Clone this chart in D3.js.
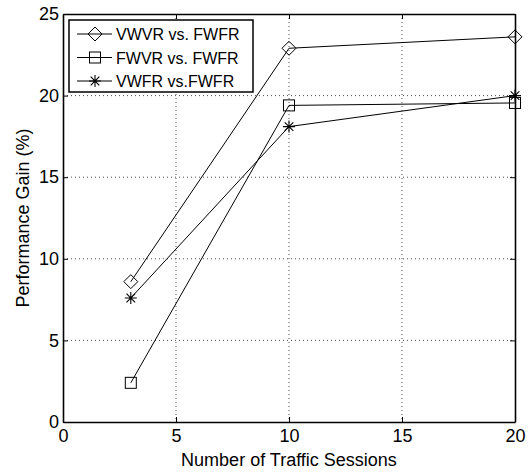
<!DOCTYPE html>
<html><head><meta charset="utf-8">
<script src="https://cdn.jsdelivr.net/npm/d3@7"></script>
<style>body{margin:0;background:#fff}svg{display:block}text{font-family:"Liberation Sans",Arial,sans-serif;fill:#000}</style>
</head><body><svg id="c" width="531" height="474"></svg>
<script>
const sessions = [3, 10, 20];
const vwvr = [8.6, 22.9, 23.6];
const fwvr = [2.4, 19.4, 19.55];
const vwfr = [7.6, 18.1, 20.0];
const seriesNames = ["VWVR vs. FWFR", "FWVR vs. FWFR", "VWFR vs.FWFR"];
const xTicks = [0, 5, 10, 15, 20];
const yTicks = [0, 5, 10, 15, 20, 25];

const svg = d3.select("#c");
const L = 63, R = 515, T = 14, B = 422;
const x = d3.scaleLinear().domain([0, 20]).range([L, R]);
const y = d3.scaleLinear().domain([0, 25]).range([B, T]);

// grid
const g = svg.append("g");
g.selectAll(".gx").data(xTicks.slice(1, -1)).enter().append("line")
  .attr("x1", d => x(d)).attr("x2", d => x(d)).attr("y1", T).attr("y2", B)
  .attr("stroke", "#000").attr("stroke-width", 0.7).attr("stroke-dasharray", "1,3");
g.selectAll(".gy").data(yTicks.slice(1, -1)).enter().append("line")
  .attr("y1", d => y(d)).attr("y2", d => y(d)).attr("x1", L).attr("x2", R)
  .attr("stroke", "#000").attr("stroke-width", 0.7).attr("stroke-dasharray", "1,3");

// axes
const fs = "18px";
const ax = svg.append("g").attr("transform", `translate(0,${B})`)
  .call(d3.axisBottom(x).tickValues(xTicks).tickSizeInner(-5).tickSizeOuter(0).tickPadding(7));
const ay = svg.append("g").attr("transform", `translate(${L},0)`)
  .call(d3.axisLeft(y).tickValues(yTicks).tickSizeInner(-5).tickSizeOuter(0).tickPadding(4));
const at = svg.append("g").attr("transform", `translate(0,${T})`)
  .call(d3.axisTop(x).tickValues(xTicks).tickSizeInner(-5).tickSizeOuter(0).tickFormat(""));
const ar = svg.append("g").attr("transform", `translate(${R},0)`)
  .call(d3.axisRight(y).tickValues(yTicks).tickSizeInner(-5).tickSizeOuter(0).tickFormat(""));
[ax, ay, at, ar].forEach(a => {
  a.select(".domain").attr("stroke", "#000").attr("stroke-width", 1.6);
  a.selectAll(".tick line").attr("stroke", "#000");
  a.selectAll("text").style("font-size", fs).style("font-family", '"Liberation Sans",Arial,sans-serif').attr("fill", "#000");
});

// labels
svg.append("text").attr("x", (L + R) / 2).attr("y", 466).attr("text-anchor", "middle")
  .style("font-size", fs).text("Number of Traffic Sessions");
svg.append("text").attr("transform", `translate(29,${(T + B) / 2}) rotate(-90)`).attr("text-anchor", "middle")
  .style("font-size", fs).text("Performance Gain (%)");

// series
const data = [vwvr, fwvr, vwfr];
const line = d3.line().x((d, i) => x(sessions[i])).y(d => y(d));
function marker(sel, k, cx, cy) {
  if (k === 0) {
    const s = 7;
    sel.append("path").attr("d", `M${cx},${cy - s}L${cx + s},${cy}L${cx},${cy + s}L${cx - s},${cy}Z`)
      .attr("fill", "none").attr("stroke", "#000").attr("stroke-width", 1);
  } else if (k === 1) {
    const s = 5.5;
    sel.append("rect").attr("x", cx - s).attr("y", cy - s).attr("width", 2 * s).attr("height", 2 * s)
      .attr("fill", "none").attr("stroke", "#000").attr("stroke-width", 1);
  } else {
    const s = 6, d = s * 0.72;
    sel.append("path").attr("d", `M${cx - s},${cy}L${cx + s},${cy}M${cx},${cy - s}L${cx},${cy + s}M${cx - d},${cy - d}L${cx + d},${cy + d}M${cx - d},${cy + d}L${cx + d},${cy - d}`)
      .attr("stroke", "#000").attr("stroke-width", 1.1);
  }
}
data.forEach((vals, k) => {
  svg.append("path").datum(vals).attr("d", line).attr("fill", "none").attr("stroke", "#000").attr("stroke-width", 1);
  vals.forEach((v, i) => marker(svg, k, x(sessions[i]), y(v)));
});

// legend
const lg = svg.append("g");
lg.append("rect").attr("x", 69).attr("y", 20).attr("width", 184).attr("height", 72)
  .attr("fill", "#fff").attr("stroke", "#000").attr("stroke-width", 1.5);
seriesNames.forEach((n, k) => {
  const yy = 34 + k * 23.5;
  lg.append("line").attr("x1", 77).attr("x2", 112).attr("y1", yy).attr("y2", yy).attr("stroke", "#000");
  marker(lg, k, 95, yy);
  lg.append("text").attr("x", 116).attr("y", yy + 6).style("font-size", "16px").text(n);
});
</script></body></html>
